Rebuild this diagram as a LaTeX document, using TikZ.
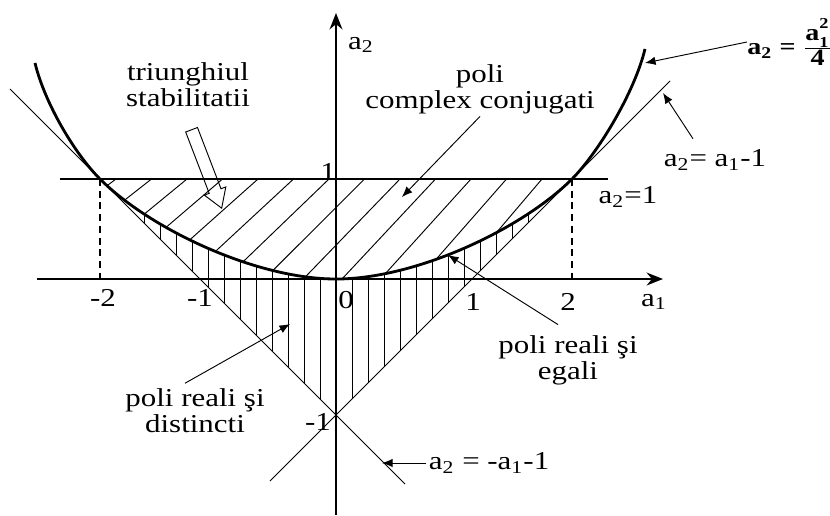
\documentclass[tikz,border=0pt]{standalone}
\usepackage{fontspec}
\setmainfont{Liberation Serif}[FakeStretch=1.2]
\usetikzlibrary{arrows, arrows.meta}
\usetikzlibrary{math}
\usetikzlibrary{shapes.arrows}

\tikzset{
  axis/.style={line width=0.8pt, -{Stealth[length=7pt, width=5.5pt]}},
  thin line/.style={line width=0.4pt},
  hatch/.style={line width=0.4pt},
  dashed line/.style={line width=0.6pt, dash pattern=on 3pt off 2pt},
  ptr/.style={line width=0.4pt, -{Latex[length=4.5pt, width=3.6pt]}},
  curve/.style={line width=1.2pt},
  lbl/.style={font=\fontsize{11}{11}\selectfont, inner sep=1pt},
}

\newcommand\lowcurve{(-\Xt,1) .. controls (-\Xt+0.5,0.5) and (-0.8,0) .. (0,0) .. controls (0.8,0) and (\Xt-0.5,0.5) .. (\Xt,1)}
\newcommand\smallbf[1]{\mbox{\fontsize{6.5}{6.5}\selectfont\bfseries #1}}

\begin{document}
\begin{tikzpicture}[x=1.5cm, y=1.5cm]
\tikzmath{
\K=1.36;
\Xt=\K+1;
}
\useasboundingbox (-3.36,-2.36) rectangle (4.94,2.79);

% complex poles
\begin{scope}
\clip \lowcurve -- cycle;
\foreach \i in {0,...,12}{
  \pgfmathsetmacro\xa{-2.2+0.355*\i}
  \draw[hatch] (\xa,1) -- ++(-2,{-2*(0.97+0.1*\xa)});
}
\end{scope}

% real distinct poles
\begin{scope}
\clip \lowcurve -- (0,-\K) -- cycle;
\foreach \i in {-12,...,12}
  \draw[hatch] (\i*0.16,1) -- (\i*0.16,-\K);
\end{scope}

\draw[thin line] (-3.26,{3.26-\K}) -- (0.69,{-0.69-\K});
\draw[thin line] (-0.66,{-0.66-\K}) -- (3.34,{3.34-\K});
\draw[line width=0.6pt] (-2.76,1) -- (2.72,1);
\draw[dashed line] (-\Xt,1) -- (-\Xt,0);
\draw[dashed line] (\Xt,1) -- (\Xt,0);

\draw[curve] (-3.01,2.16) .. controls (-2.91,1.75) and (-2.61,1.25) .. \lowcurve .. controls (2.61,1.25) and (2.98,1.85) .. (3.09,2.30);

\draw[axis] (-2.99,0) -- (3.27,0);
\draw[axis] (0,-2.36) -- (0,2.66);

% ticks
\node[lbl] (tm2) at (-2.33,-0.19) {-2};
\node[lbl] (tm1) at (-1.36,-0.19) {-1};
\node[lbl] (t0) at (0.10,-0.21) {0};
\node[lbl] (t1) at (1.37,-0.23) {1};
\node[lbl] (t2) at (2.32,-0.23) {2};
\node[lbl] (ty1) at (-0.08,1.07) {1};
\node[lbl] (tym1) at (-0.18,-1.43) {-1};
\node[lbl] (ax2) at (0.25,2.34) {a\textsubscript{2}};
\node[lbl] (ax1) at (3.18,-0.23) {a\textsubscript{1}};

% labels
\node[lbl, align=center] (tri) at (-1.48,1.945) {triunghiul\\stabilitatii};
\node[lbl, align=center] (cc) at (1.44,1.90) {poli\\complex conjugati};
\node[lbl, align=center] (egal) at (2.32,-0.81) {poli reali şi\\egali};
\node[lbl, align=center] (dist) at (-1.41,-1.32) {poli reali şi\\distincti};
\node[lbl] (one) at (2.92,0.82) {a\textsubscript{2}=1};
\node[lbl] (lin) at (3.79,1.19) {a\textsubscript{2}= a\textsubscript{1}-1};
\node[lbl] (neg) at (1.53,-1.84) {a\textsubscript{2} = -a\textsubscript{1}-1};
\node[lbl, font=\fontsize{10}{11}\selectfont\bfseries, inner sep=0pt] (par) at (4.54,2.37)
  {a\textsubscript{2} = $\frac{\mbox{\bfseries a}_{\raisebox{-1pt}{\smallbf{1}}}^{\raisebox{2pt}{\smallbf{2}}}}{\mbox{\bfseries 4}}$};

\node[single arrow, draw, line width=0.4pt, minimum height=1.26cm, single arrow tip angle=64,
  single arrow head extend=2.2pt, inner sep=0pt, rotate=-69, anchor=tip] (harrow) at (-1.14,0.70) {\rule{0pt}{5pt}};

% pointers
\coordinate (tipcc) at (0.66,0.82);
\coordinate (tipeg) at (1.12,0.24);
\coordinate (tipdi) at (-0.46,-0.45);
\coordinate (tipneg) at (0.46,-1.84);
\coordinate (tiplin) at (3.27,1.86);
\coordinate (tippar) at (3.09,2.16);
\draw[ptr] (cc.south) -- (tipcc);
\draw[ptr] ([shift={(-0.1,0.08)}]egal.north) -- (tipeg);
\draw[ptr] ([shift={(-0.1,0.03)}]dist.north) -- (tipdi);
\draw[ptr] (neg.west) -- (tipneg);
\draw[ptr] ([shift={(-0.22,0.08)}]lin.north) -- (tiplin);
\draw[ptr] (par.west) -- (tippar);
\end{tikzpicture}
\end{document}
